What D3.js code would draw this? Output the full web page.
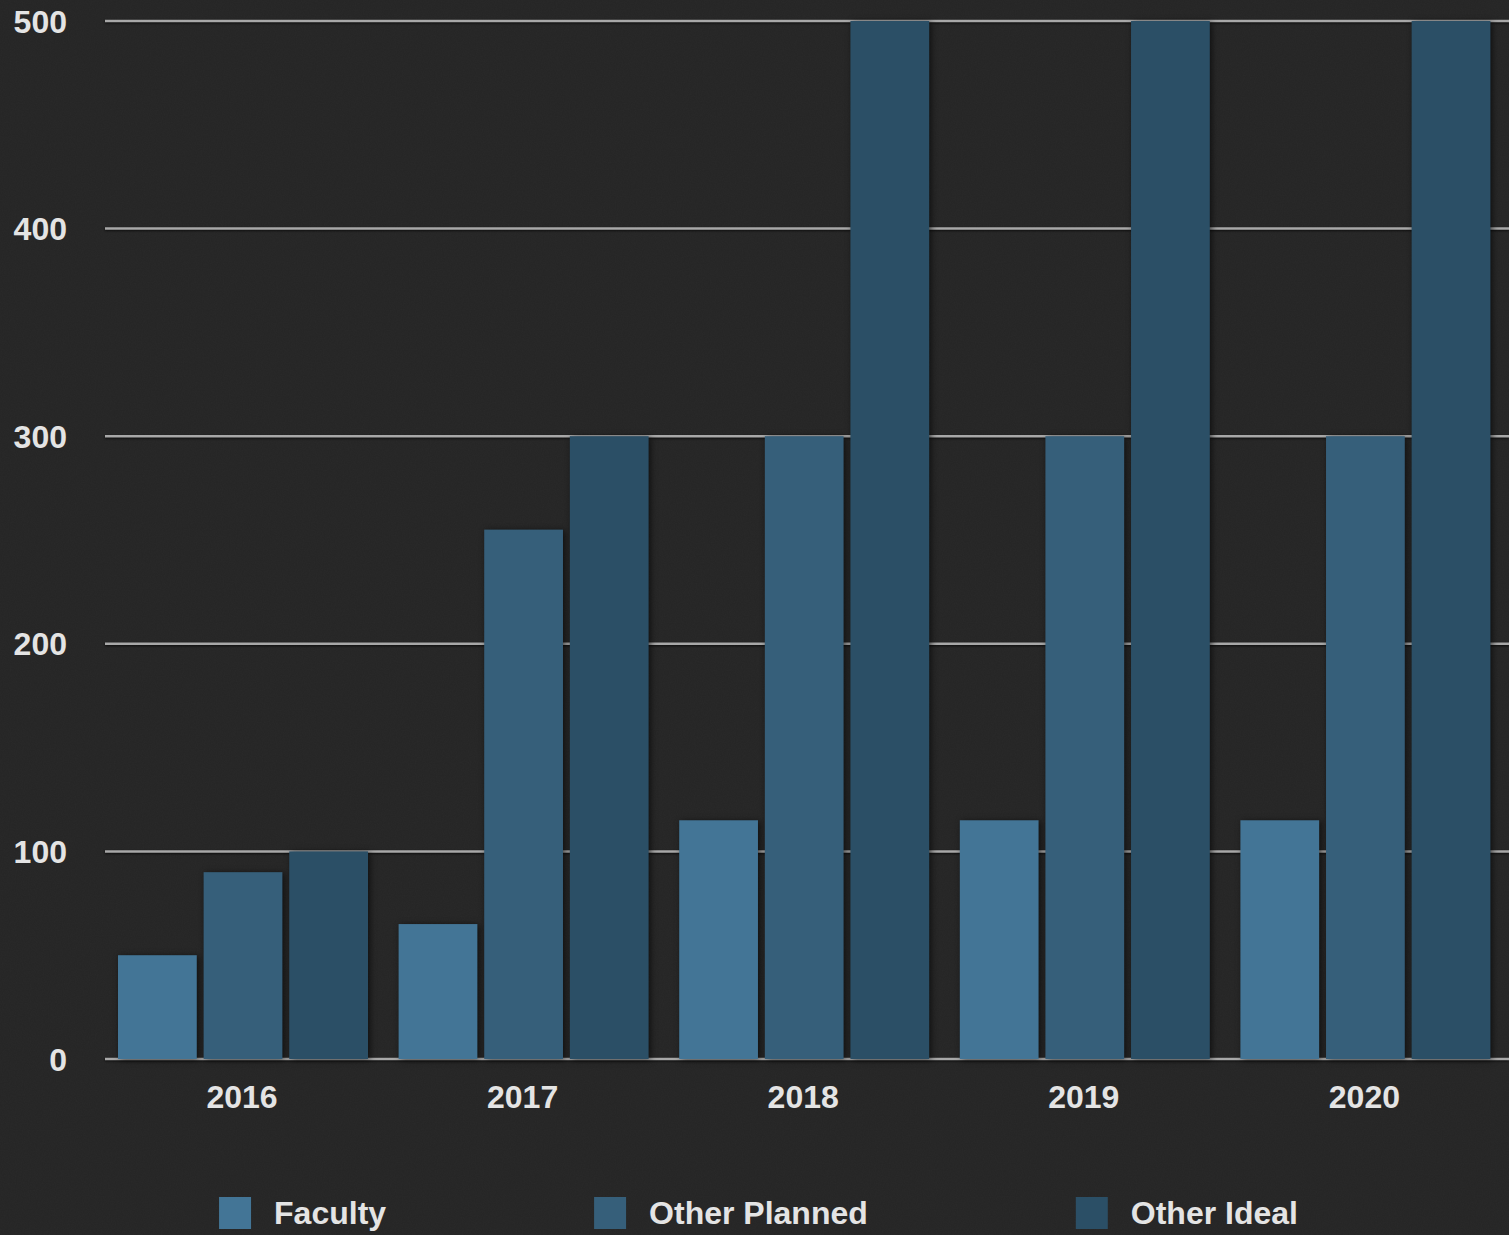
<!DOCTYPE html>
<html>
<head>
<meta charset="utf-8">
<script src="https://cdnjs.cloudflare.com/ajax/libs/d3/7.8.5/d3.min.js"></script>
<style>
  html, body { margin: 0; padding: 0; background: #262626; }
  svg { display: block; }
  text { font-family: "Liberation Sans", Arial, Helvetica, sans-serif; font-weight: bold; fill: #e4e4e4; }
</style>
</head>
<body>
<svg id="chart" width="1509" height="1235"></svg>
<script>
// Headcount by year for each staffing series
const years = ["2016", "2017", "2018", "2019", "2020"];
const seriesNames = ["Faculty", "Other Planned", "Other Ideal"];
const faculty = [50, 65, 115, 115, 115];
const otherPlanned = [90, 255, 300, 300, 300];
const otherIdeal = [100, 300, 500, 500, 500];
const yTicks = [0, 100, 200, 300, 400, 500];
const seriesColors = ["#437596", "#365f7a", "#2b4f66"];

const seriesValues = [faculty, otherPlanned, otherIdeal];

const W = 1509, H = 1235;
const margin = { left: 105, right: 1, top: 21, bottom: 176 };
const fontSize = 32;
const svg = d3.select("#chart");

const defs = svg.append("defs");
// fine grain on the dark backdrop
const grain = defs.append("filter").attr("id", "grain")
  .attr("filterUnits", "userSpaceOnUse").attr("x", 0).attr("y", 0).attr("width", W).attr("height", H)
  .attr("color-interpolation-filters", "sRGB");
grain.append("feTurbulence").attr("type", "fractalNoise").attr("baseFrequency", 0.85).attr("numOctaves", 2).attr("seed", 3).attr("result", "noise");
grain.append("feColorMatrix").attr("in", "noise").attr("type", "matrix")
  .attr("values", "0 0 0 0 0.17  0 0 0 0 0.17  0 0 0 0 0.17  1 0 0 0 -0.3").attr("result", "tint");
grain.append("feComposite").attr("in", "tint").attr("in2", "SourceGraphic").attr("operator", "over");

const shadow = defs.append("filter").attr("id", "barShadow")
  .attr("filterUnits", "userSpaceOnUse").attr("x", 0).attr("y", 0).attr("width", W).attr("height", H)
  .attr("color-interpolation-filters", "sRGB");
shadow.append("feDropShadow").attr("dx", 2).attr("dy", 1).attr("stdDeviation", 3).attr("flood-color", "#000").attr("flood-opacity", 0.6);

const lineShadow = defs.append("filter").attr("id", "lineShadow")
  .attr("filterUnits", "userSpaceOnUse").attr("x", 0).attr("y", 0).attr("width", W).attr("height", H)
  .attr("color-interpolation-filters", "sRGB");
lineShadow.append("feDropShadow").attr("dx", 0).attr("dy", 1).attr("stdDeviation", 1.2).attr("flood-color", "#000").attr("flood-opacity", 0.7);

svg.append("rect").attr("width", W).attr("height", H).attr("fill", "#262626").attr("filter", "url(#grain)");

const x0 = d3.scaleBand().domain(years).range([margin.left, W - margin.right]).paddingInner(0).paddingOuter(0);
const x1 = d3.scaleBand().domain(seriesNames).range([13, 263]).paddingInner(0.08);
const y = d3.scaleLinear().domain([0, 500]).range([H - margin.bottom, margin.top]);

// horizontal gridlines
svg.append("g").attr("filter", "url(#lineShadow)")
  .selectAll("line").data(yTicks).join("line")
  .attr("x1", margin.left).attr("x2", W)
  .attr("y1", d => y(d)).attr("y2", d => y(d))
  .attr("stroke", "#a8a8a8").attr("stroke-width", 2.5);

// y tick labels
svg.append("g").selectAll("text").data(yTicks).join("text")
  .attr("x", 67).attr("y", d => y(d))
  .attr("dy", "0.36em")
  .attr("text-anchor", "end")
  .attr("font-size", fontSize)
  .text(d => d);

// grouped bars
const groups = svg.append("g").attr("filter", "url(#barShadow)")
  .selectAll("g").data(years).join("g")
  .attr("transform", d => `translate(${x0(d)},0)`);

groups.selectAll("rect")
  .data((yr, i) => seriesNames.map((s, k) => ({ s, k, v: seriesValues[k][i] })))
  .join("rect")
  .attr("x", d => x1(d.s))
  .attr("width", x1.bandwidth())
  .attr("y", d => y(d.v))
  .attr("height", d => y(0) - y(d.v))
  .attr("fill", d => seriesColors[d.k]);

// x tick labels
svg.append("g").selectAll("text").data(years).join("text")
  .attr("x", d => x0(d) + 13 + 250 / 2 - 1)
  .attr("y", 1108)
  .attr("text-anchor", "middle")
  .attr("font-size", fontSize)
  .text(d => d);

// legend, centred along the bottom
const legend = svg.append("g");
const items = legend.selectAll("g").data(seriesNames).join("g");
items.append("rect").attr("width", 32).attr("height", 32).attr("y", 1197)
  .attr("fill", (d, i) => seriesColors[i]);
items.append("text").attr("x", 55).attr("y", 1224).attr("font-size", fontSize).text(d => d);

const gap = 208;
let cursor = 0;
const offsets = [];
items.each(function () {
  const tw = d3.select(this).select("text").node().getComputedTextLength();
  offsets.push(cursor);
  cursor += 55 + tw + gap;
});
const total = cursor - gap;
const start = (W - total) / 2 + 4;
items.attr("transform", (d, i) => `translate(${start + offsets[i]},0)`);
</script>
</body>
</html>
